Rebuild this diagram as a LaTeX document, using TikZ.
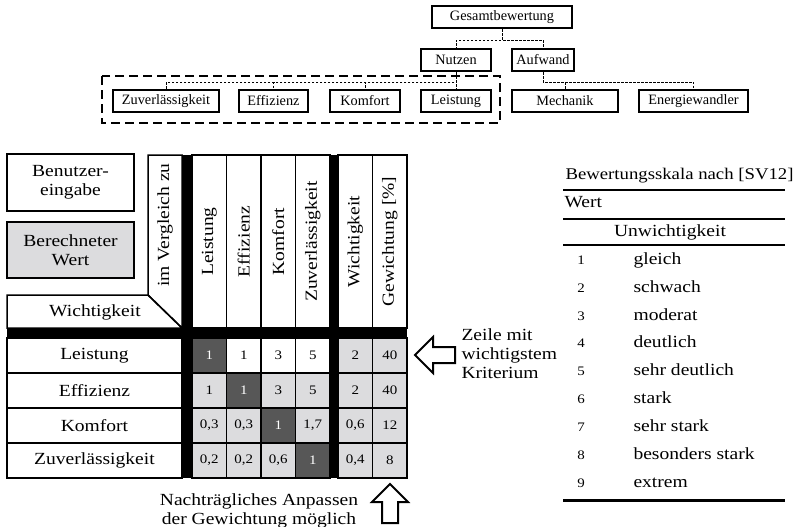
\documentclass[tikz,border=0pt]{standalone}
\usepackage{fontspec}
\setmainfont{Liberation Serif}
\newfontfamily\widefont{Liberation Serif}[FakeStretch=1.15]

\definecolor{calcgray}{HTML}{DCDCDE}
\definecolor{diaggray}{HTML}{575757}

\newcommand\treefont{\fontsize{14.3}{17}\selectfont}
\newcommand\tabfont{\widefont\fontsize{17}{19}\selectfont}
\newcommand\numfont{\widefont\fontsize{13}{15}\selectfont}

\begin{document}
\begin{tikzpicture}[x=1pt,y=-1pt,
	    treebox/.style={draw,line width=2.4pt,minimum height=22pt,inner sep=0pt,font=\treefont},
	    treelink/.style={line width=0.8pt,dash pattern=on 2.5pt off 1.5pt},
	    cell/.style={draw,line width=1.5pt,minimum width=34.5pt,minimum height=35pt,inner sep=0pt,font=\numfont},
	    plain cell/.style={cell,fill=white},
	    calc cell/.style={cell,fill=calcgray},
	    dark cell/.style={cell,fill=diaggray,text=white},
	    head/.style={draw,line width=1.5pt,rotate=90,minimum width=173pt,minimum height=34.5pt,inner sep=0pt,font=\tabfont},
	    rowlabel/.style={draw,line width=1.5pt,minimum width=175pt,minimum height=35pt,inner sep=0pt,font=\tabfont},
	    legendbox/.style={draw,line width=2.2pt,minimum width=127pt,inner sep=0pt,align=center,font=\tabfont}]
	    \useasboundingbox (0,0) rectangle (795,527);

	    % The criteria tree
	    \node [treebox,minimum width=140pt] (ges) at (502,17) {Gesamtbewertung};
	    \node [treebox,minimum width=70pt] (nutzen) at (456,60) {Nutzen};
	    \node [treebox,minimum width=62pt] (aufwand) at (543,60) {Aufwand};
	    \node [treebox,minimum width=106pt] (zuv) at (166,101) {Zuverlässigkeit};
	    \node [treebox,minimum width=69pt] (eff) at (273.5,101) {Effizienz};
	    \node [treebox,minimum width=70pt] (kom) at (365,101) {Komfort};
	    \node [treebox,minimum width=70pt] (lei) at (456,101) {Leistung};
	    \node [treebox,minimum width=106pt] (mech) at (565,101) {Mechanik};
	    \node [treebox,minimum width=109pt] (energ) at (693.5,101) {Energiewandler};

	    \draw [treelink] (ges.south) -- ++(0,11) -| (nutzen.north);
	    \draw [treelink] (ges.south) -- ++(0,11) -| (aufwand.north);
	    \foreach \n in {zuv,eff,kom,lei}
		\draw [treelink] (nutzen.south) -- ++(0,10) -| (\n.north);
	    \foreach \n in {mech,energ}
		\draw [treelink] (aufwand.south) -- ++(0,10) -| (\n.north);

	    % Frame around the criteria that get compared
	    \draw [line width=2.2pt,dash pattern=on 9pt off 5pt] (102,76) rectangle (500,123);

	    % Legend boxes
	    \node [legendbox,minimum height=57pt] (input) at (70.5,182.5) {Benutzer-\\eingabe};
	    \node [legendbox,minimum height=56pt,fill=calcgray] (calc) at (70.5,250) {Berechneter\\Wert};

	    % Corner of the comparison matrix
	    \draw [line width=1.5pt] (148,155) -- (182,155) -- (182,328) -- (148,295) -- cycle;
	    \draw [line width=1.5pt] (7,295) -- (148,295) -- (182,328) -- (7,328) -- cycle;
	    \node [rotate=90,font=\tabfont] (vgl) at (165,225) {im Vergleich zu};
	    \node [font=\tabfont] (wicht) at (95,312) {Wichtigkeit};

	    % Column heads
	    \foreach \x/\t [count=\c] in {209.25/Leistung, 243.75/Effizienz, 278.25/Komfort,
		312.75/Zuverlässigkeit, 355.25/Wichtigkeit, 389.75/{Gewichtung [\%]}}
		\node [head] (head-\c) at (\x,241.5) {\t};

	    % Row heads
	    \foreach \t [count=\r] in {Leistung, Effizienz, Komfort, Zuverlässigkeit}
		\node [rowlabel] (row-\r) at (94.5,320.5+35*\r) {\t};

	    % Matrix entries
	    \foreach \cells [count=\r] in {
		{dark/1, plain/1, plain/3, plain/5, calc/2, calc/40},
		{calc/1, dark/1, calc/3, calc/5, calc/2, calc/40},
		{calc/{0,3}, calc/{0,3}, dark/1, calc/{1,7}, calc/{0,6}, calc/12},
		{calc/{0,2}, calc/{0,2}, calc/{0,6}, dark/1, calc/{0,4}, calc/8}}
		\foreach \s/\v [count=\c] in \cells {
		    \pgfmathsetmacro\cx{ifthenelse(\c<5,192+34.5*(\c-0.5),338+34.5*(\c-4.5))}
		    \node [\s\space cell] (cell-\r-\c) at (\cx,320.5+35*\r) {\v};
		}

	    % Thick separators
	    \fill (182,155) rectangle (192,478);
	    \fill (330,155) rectangle (338,478);
	    \fill (7,328) rectangle (407,338);

	    % Hint arrows with their notes
	    \draw [line width=2pt,fill=white] (415,355) -- (433,337) -- (433,347) -- (455,347)
		-- (455,363) -- (433,363) -- (433,373) -- cycle;
	    \node [anchor=west,align=left,font=\tabfont] (rownote) at (458,354)
		{Zeile mit\\wichtigstem\\Kriterium};
	    \draw [line width=2pt,fill=white] (390,484) -- (408,502) -- (398,502) -- (398,523)
		-- (382,523) -- (382,502) -- (372,502) -- cycle;
	    \node [align=center,font=\tabfont] (adjnote) at (259,511)
		{Nachträgliches Anpassen\\der Gewichtung möglich};

	    % Rating scale
	    \node [anchor=west,font=\widefont\fontsize{16.3}{19}\selectfont] (scale) at (562,176)
		{Bewertungsskala nach [SV12]};
	    \draw [line width=2.5pt] (563,190) -- (785,190);
	    \node [anchor=mid west,font=\tabfont] (wert) at (561,205) {Wert};
	    \draw [line width=1.5pt] (563,219) -- (785,219);
	    \node [anchor=mid,font=\tabfont] (unw) at (670,234) {Unwichtigkeit};
	    \draw [line width=2pt] (563,245) -- (785,245);
	    \foreach \t [count=\i] in {gleich, schwach, moderat, deutlich, sehr deutlich,
		stark, sehr stark, besonders stark, extrem} {
		\node [anchor=mid,font=\numfont] (num-\i) at (581,234.1+27.9*\i) {\i};
		\node [anchor=mid west,font=\tabfont] (grade-\i) at (630,234.1+27.9*\i) {\t};
	    }
	    \draw [line width=3pt] (563,500) -- (785,500);
	\end{tikzpicture}
\end{document}
